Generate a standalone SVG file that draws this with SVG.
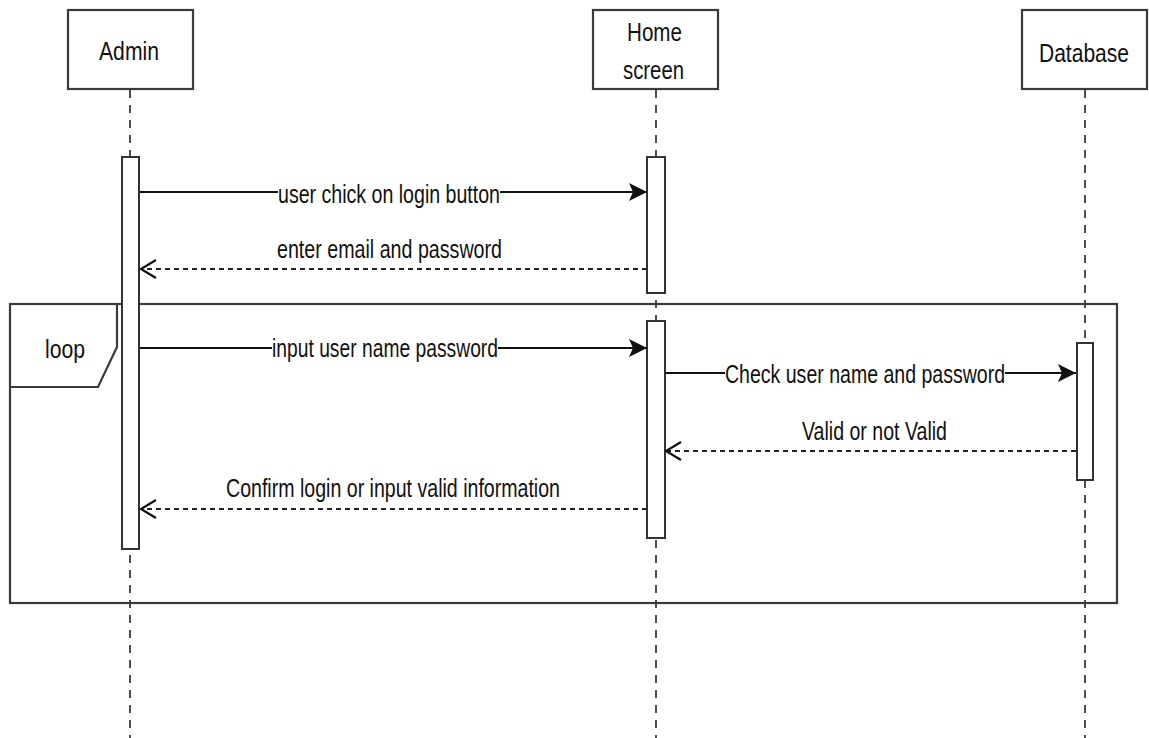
<svg xmlns="http://www.w3.org/2000/svg" width="1149" height="738" viewBox="0 0 1149 738">
<style>
.box{fill:#fff;stroke:#3a3a3a;stroke-width:2.2}
.act{fill:#fff;stroke:#333;stroke-width:2}
.life{stroke:#222;stroke-width:1.6;stroke-dasharray:8 7;fill:none}
.msg{stroke:#111;stroke-width:2.2;fill:none}
.ret{stroke:#222;stroke-width:2;stroke-dasharray:5 4;fill:none}
.frame{fill:none;stroke:#3a3a3a;stroke-width:2.2}
text{font-family:"Liberation Sans",Arial,sans-serif;fill:#111;font-size:25px}
.bg{fill:#fff}
</style>
<defs>
<marker id="solid" markerUnits="userSpaceOnUse" markerWidth="22" markerHeight="22" viewBox="0 0 22 22" refX="20" refY="11" orient="auto">
<path d="M2,2 L20,11 L2,20 L6,11 Z" fill="#111"/>
</marker>
<marker id="open" markerUnits="userSpaceOnUse" markerWidth="22" markerHeight="24" viewBox="0 0 22 24" refX="19" refY="12" orient="auto">
<path d="M4,3 L19,12 L4,21" fill="none" stroke="#111" stroke-width="2.2"/>
</marker>
</defs>

<g id="lifelines">
<line class="life" x1="130" y1="90" x2="130" y2="738"/>
<line class="life" x1="656" y1="90" x2="656" y2="738"/>
<line class="life" x1="1085" y1="90" x2="1085" y2="738"/>
</g>

<g id="loop-frame">
<rect class="frame" x="10" y="304" width="1107" height="299"/>
<path class="frame" d="M117,304 L117,347 L98,387 L10,387"/>
<text x="45" y="358" textLength="40" lengthAdjust="spacingAndGlyphs">loop</text>
</g>

<g id="admin">
<rect class="box" x="68" y="10" width="125" height="79"/>
<text x="99" y="60" textLength="60" lengthAdjust="spacingAndGlyphs">Admin</text>
<rect class="act" x="122" y="157" width="17" height="392"/>
</g>

<g id="home-screen">
<rect class="box" x="593" y="10" width="125" height="79"/>
<text x="627" y="41" font-size="22" textLength="55" lengthAdjust="spacingAndGlyphs">Home</text>
<text x="623" y="79" font-size="22" textLength="61" lengthAdjust="spacingAndGlyphs">screen</text>
<rect class="act" x="647" y="157" width="18" height="136"/>
<rect class="act" x="647" y="321" width="18" height="217"/>
</g>

<g id="database">
<rect class="box" x="1022" y="10" width="125" height="79"/>
<text x="1039" y="62" textLength="90" lengthAdjust="spacingAndGlyphs">Database</text>
<rect class="act" x="1077" y="343" width="16" height="137"/>
</g>

<g id="connectors">
<line class="msg" x1="140" y1="192" x2="647" y2="192" marker-end="url(#solid)"/>
<rect class="bg" x="278" y="180" width="222" height="26"/>
<text x="278" y="203" textLength="222" lengthAdjust="spacingAndGlyphs">user chick on login button</text>

<line class="ret" x1="647" y1="269" x2="141" y2="269" marker-end="url(#open)"/>
<text x="277" y="258" textLength="225" lengthAdjust="spacingAndGlyphs">enter email and password</text>

<line class="msg" x1="140" y1="348" x2="647" y2="348" marker-end="url(#solid)"/>
<rect class="bg" x="272" y="336" width="226" height="26"/>
<text x="272" y="357" textLength="226" lengthAdjust="spacingAndGlyphs">input user name password</text>

<line class="msg" x1="665" y1="373" x2="1076" y2="373" marker-end="url(#solid)"/>
<rect class="bg" x="725" y="361" width="280" height="26"/>
<text x="725" y="383" textLength="280" lengthAdjust="spacingAndGlyphs">Check user name and password</text>

<line class="ret" x1="1076" y1="451" x2="666" y2="451" marker-end="url(#open)"/>
<text x="802" y="440" textLength="145" lengthAdjust="spacingAndGlyphs">Valid or not Valid</text>

<line class="ret" x1="647" y1="509" x2="141" y2="509" marker-end="url(#open)"/>
<text x="226" y="497" textLength="334" lengthAdjust="spacingAndGlyphs">Confirm login or input valid information</text>
</g>
</svg>
